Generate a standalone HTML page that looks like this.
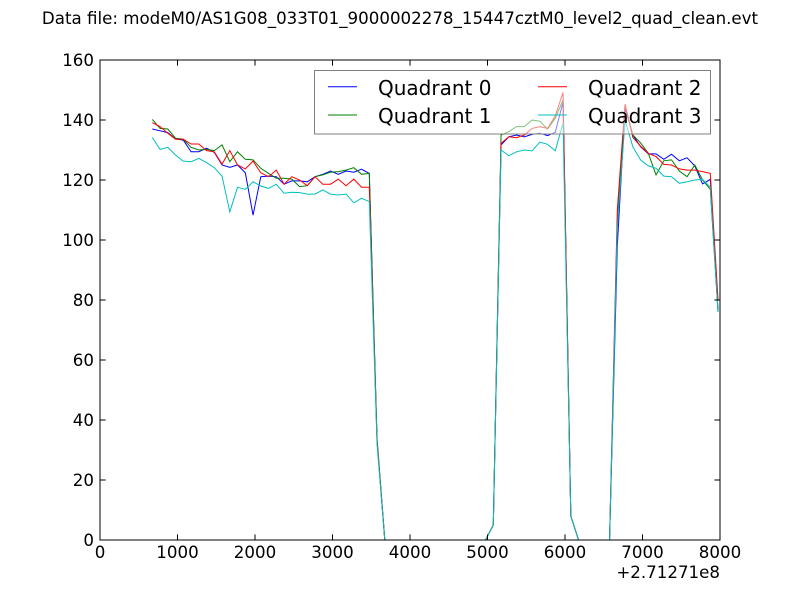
<!DOCTYPE html>
<html>
<head>
<meta charset="utf-8">
<style>
html,body{margin:0;padding:0;background:#fff;}
svg{display:block;}
text{font-family:"DejaVu Sans","Liberation Sans",sans-serif;fill:#000;}
</style>
</head>
<body>
<svg width="800" height="600" viewBox="0 0 800 600" xmlns="http://www.w3.org/2000/svg">
<rect x="0" y="0" width="800" height="600" fill="#fff"/>
<text x="400" y="24" font-size="16.67" text-anchor="middle">Data file: modeM0/AS1G08_033T01_9000002278_15447cztM0_level2_quad_clean.evt</text>
<defs><clipPath id="ax"><rect x="100" y="60" width="620" height="480"/></clipPath></defs>
<g clip-path="url(#ax)" fill="none" stroke-width="1" stroke-linejoin="miter">
<polyline stroke="#0000ff" points="152.3,129 160.05,130.8 167.8,132.6 175.55,138.9 183.3,140.1 191.05,151.8 198.8,151.8 206.55,148.2 214.3,152.4 222.05,165 229.8,167.4 237.55,165 245.3,172.8 253.05,215.1 260.8,176.7 268.55,176.1 276.3,176.7 284.05,184.2 291.8,180.9 299.55,180.9 307.3,181.8 315.05,176.7 322.8,174.3 330.55,171 338.3,174.3 346.05,171 353.8,172.2 361.55,169.2 369.3,173.4 377.05,441 384.8,540 485.55,540 493.3,525 501.05,144.9 508.8,136.8 516.55,135 524.3,136.8 532.05,134.4 539.8,133.2 547.55,135.6 555.3,132.3 563.05,102 570.8,516 578.55,540 609.55,540 617.3,246 625.05,108 632.8,135 640.55,146.7 648.3,153.9 656.05,153.9 663.8,159.3 671.55,154.2 679.3,160.8 687.05,157.8 694.8,165.9 702.55,183.9 710.3,179.4 718.05,312"/>
<polyline stroke="#008000" points="152.3,119.4 160.05,128.4 167.8,129 175.55,138.3 183.3,139.2 191.05,147.3 198.8,150 206.55,149.4 214.3,150.6 222.05,144.9 229.8,161.7 237.55,151.8 245.3,159.3 253.05,159.9 260.8,168.3 268.55,173.4 276.3,178.2 284.05,178.2 291.8,179.1 299.55,186.6 307.3,185.7 315.05,176.7 322.8,174.9 330.55,172.2 338.3,171.6 346.05,170.1 353.8,167.7 361.55,174.3 369.3,173.4 377.05,438 384.8,540 485.55,540 493.3,525 501.05,135 508.8,131.7 516.55,126.6 524.3,126.6 532.05,120 539.8,121.2 547.55,129 555.3,118.2 563.05,99.9 570.8,516 578.55,540 609.55,540 617.3,222 625.05,105 632.8,135 640.55,142.8 648.3,153.3 656.05,174.9 663.8,160.8 671.55,159.9 679.3,171 687.05,176.7 694.8,165 702.55,180 710.3,189.3 718.05,312"/>
<polyline stroke="#ff0000" points="152.3,122.7 160.05,126.6 167.8,133.2 175.55,139.2 183.3,139.2 191.05,144 198.8,144 206.55,150.6 214.3,151.8 222.05,164.1 229.8,150.6 237.55,165 245.3,168.9 253.05,161.1 260.8,172.8 268.55,176.7 276.3,170.1 284.05,184.2 291.8,176.7 299.55,180 307.3,185.7 315.05,176.7 322.8,184.2 330.55,184.2 338.3,179.1 346.05,185.7 353.8,179.1 361.55,187.2 369.3,187.2 377.05,441 384.8,540 485.55,540 493.3,525 501.05,143.4 508.8,136.8 516.55,137.7 524.3,135 532.05,128.4 539.8,126.6 547.55,128.4 555.3,115.8 563.05,92.4 570.8,516 578.55,540 609.55,540 617.3,210 625.05,104.1 632.8,137.4 640.55,146.1 648.3,153.3 656.05,156.6 663.8,164.4 671.55,165 679.3,168.9 687.05,170.1 694.8,170.1 702.55,171.6 710.3,173.4 718.05,300"/>
<polyline stroke="#00bfbf" points="152.3,137.4 160.05,149.4 167.8,147.3 175.55,155.1 183.3,161.1 191.05,161.7 198.8,158.4 206.55,162.6 214.3,167.7 222.05,176.1 229.8,211.8 237.55,187.2 245.3,189.3 253.05,181.8 260.8,186 268.55,188.4 276.3,184.2 284.05,193.2 291.8,192.3 299.55,192.6 307.3,194.1 315.05,194.1 322.8,189.9 330.55,194.1 338.3,195 346.05,194.1 353.8,202.8 361.55,198.3 369.3,201.6 377.05,444 384.8,540 485.55,540 493.3,525 501.05,150 508.8,155.7 516.55,151.8 524.3,150 532.05,150.9 539.8,142.2 547.55,144.3 555.3,150.9 563.05,123 570.8,516 578.55,540 609.55,540 617.3,228 625.05,120 632.8,146.7 640.55,159.9 648.3,165.9 656.05,168.3 663.8,176.1 671.55,176.7 679.3,183.3 687.05,181.8 694.8,180 702.55,179.4 710.3,187.2 718.05,312"/>
</g>
<!-- frame -->
<rect x="100" y="60" width="620" height="480" fill="none" stroke="#000" stroke-width="1"/>
<!-- ticks -->
<g stroke="#000" stroke-width="1">
<path d="M100,540V534.4M177.5,540V534.4M255,540V534.4M332.5,540V534.4M410,540V534.4M487.5,540V534.4M565,540V534.4M642.5,540V534.4M720,540V534.4"/>
<path d="M100,60V65.6M177.5,60V65.6M255,60V65.6M332.5,60V65.6M410,60V65.6M487.5,60V65.6M565,60V65.6M642.5,60V65.6M720,60V65.6"/>
<path d="M100,540H105.6M100,480H105.6M100,420H105.6M100,360H105.6M100,300H105.6M100,240H105.6M100,180H105.6M100,120H105.6M100,60H105.6"/>
<path d="M720,540H714.4M720,480H714.4M720,420H714.4M720,360H714.4M720,300H714.4M720,240H714.4M720,180H714.4M720,120H714.4M720,60H714.4"/>
</g>
<!-- y labels -->
<g font-size="16.67" text-anchor="end">
<text x="94" y="546">0</text>
<text x="94" y="486">20</text>
<text x="94" y="426">40</text>
<text x="94" y="366">60</text>
<text x="94" y="306">80</text>
<text x="94" y="246">100</text>
<text x="94" y="186">120</text>
<text x="94" y="126">140</text>
<text x="94" y="66">160</text>
</g>
<!-- x labels -->
<g font-size="16.67" text-anchor="middle">
<text x="100" y="558">0</text>
<text x="177.5" y="558">1000</text>
<text x="255" y="558">2000</text>
<text x="332.5" y="558">3000</text>
<text x="410" y="558">4000</text>
<text x="487.5" y="558">5000</text>
<text x="565" y="558">6000</text>
<text x="642.5" y="558">7000</text>
<text x="720" y="558">8000</text>
</g>
<text x="720" y="578" font-size="16.67" text-anchor="end">+2.71271e8</text>
<!-- legend -->
<rect x="314.5" y="70.5" width="396" height="63.5" fill="#fff" fill-opacity="0.5" stroke="#808080" stroke-width="1"/>
<g stroke-width="1">
<line x1="328" y1="86.7" x2="357" y2="86.7" stroke="#0000ff"/>
<line x1="328" y1="115" x2="357" y2="115" stroke="#008000"/>
<line x1="538" y1="86.7" x2="567" y2="86.7" stroke="#ff0000"/>
<line x1="538" y1="115" x2="567" y2="115" stroke="#00bfbf"/>
</g>
<g font-size="20">
<text x="378" y="95">Quadrant 0</text>
<text x="378" y="123">Quadrant 1</text>
<text x="588" y="95">Quadrant 2</text>
<text x="588" y="123">Quadrant 3</text>
</g>
</svg>
</body>
</html>
